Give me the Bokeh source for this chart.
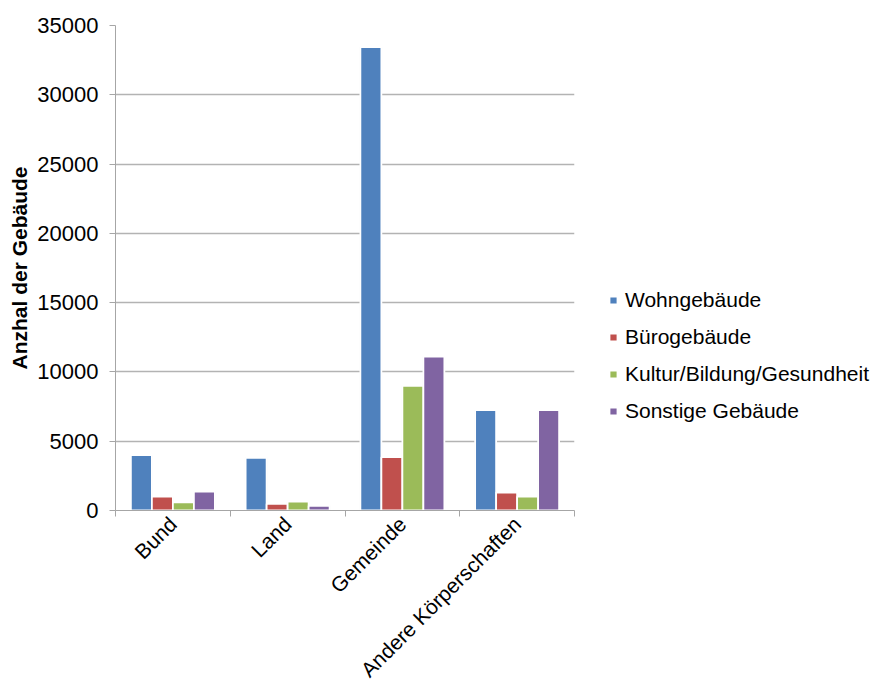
import numpy as np
from math import pi
from bokeh.plotting import figure
from bokeh.models import (ColumnDataSource, Range1d, FixedTicker, SingleIntervalTicker,
                          Legend, LegendItem)
from bokeh.embed import file_html
from bokeh.resources import INLINE

# ---- data ----
categories = ["Bund", "Land", "Gemeinde", "Andere Körperschaften"]
series = ["Wohngebäude", "Bürogebäude", "Kultur/Bildung/Gesundheit", "Sonstige Gebäude"]
wohngebaeude = [4000, 3800, 33450, 7250]
buerogebaeude = [1000, 480, 3850, 1300]
kultur_bildung = [580, 650, 9000, 1000]
sonstige = [1370, 340, 11100, 7250]
values = [wohngebaeude, buerogebaeude, kultur_bildung, sonstige]
colors = ["#4F81BD", "#C0504D", "#9BBB59", "#8064A2"]

FONT = "Liberation Sans"

p = figure(frame_width=459, frame_height=485,
           min_border_left=115, min_border_right=303,
           min_border_top=25, min_border_bottom=183,
           x_range=Range1d(0, len(categories)), y_range=Range1d(0, 35000),
           output_backend="svg", toolbar_location=None,
           background_fill_color="white", border_fill_color="white")
p.outline_line_color = None

centers = np.arange(len(categories)) + 0.5
step = 0.183
offsets = (np.arange(len(series)) - (len(series) - 1) / 2) * step

items = []
for i, (name, vals, col) in enumerate(zip(series, values, colors)):
    src = ColumnDataSource(dict(x=centers + offsets[i], top=vals))
    # soft shadow
    p.vbar(x="x", top="top", bottom=0, width=step + 0.012, source=src,
           fill_color="#000000", fill_alpha=0.07, line_color=None)
    r = p.vbar(x="x", top="top", bottom=0, width=step, source=src,
               fill_color=col, line_color="white", line_width=1.8)
    items.append(LegendItem(label=name, renderers=[r]))

# axes
axis_col = "#A6A6A6"
p.yaxis.ticker = SingleIntervalTicker(interval=5000)
p.yaxis.minor_tick_line_color = None
p.yaxis.major_tick_in = 0
p.yaxis.major_tick_out = 6
p.yaxis.major_tick_line_color = axis_col
p.yaxis.axis_line_color = axis_col
p.yaxis.major_label_standoff = 11
p.yaxis.major_label_text_font = FONT
p.yaxis.major_label_text_font_size = "22px"
p.yaxis.major_label_text_color = "#000000"
p.yaxis.axis_label = "Anzhal der Gebäude"
p.yaxis.axis_label_text_font = FONT
p.yaxis.axis_label_text_font_size = "21px"
p.yaxis.axis_label_text_font_style = "bold"
p.yaxis.axis_label_text_color = "#000000"
p.yaxis.axis_label_standoff = 3

p.xaxis.ticker = FixedTicker(ticks=list(centers), minor_ticks=list(range(len(categories) + 1)))
p.xaxis.major_label_overrides = {float(c): cat for c, cat in zip(centers, categories)}
p.xaxis.major_tick_line_color = None
p.xaxis.minor_tick_in = 0
p.xaxis.minor_tick_out = 6
p.xaxis.minor_tick_line_color = axis_col
p.xaxis.axis_line_color = axis_col
p.xaxis.major_label_orientation = pi / 4
p.xaxis.major_label_standoff = 4
p.xaxis.major_label_text_font = FONT
p.xaxis.major_label_text_font_size = "21px"
p.xaxis.major_label_text_color = "#000000"

p.xgrid.grid_line_color = None
p.ygrid.grid_line_color = "#B3B3B3"
p.ygrid.grid_line_width = 1.5

legend = Legend(items=items, location=(34, 87), orientation="vertical",
                border_line_color=None, background_fill_alpha=0,
                padding=0, margin=0, spacing=13,
                glyph_width=10, glyph_height=10, label_standoff=7,
                label_height=24,
                label_text_font=FONT, label_text_font_size="21px",
                label_text_color="#000000")
p.add_layout(legend, "right")

open("out.html", "w").write(file_html(p, INLINE))
